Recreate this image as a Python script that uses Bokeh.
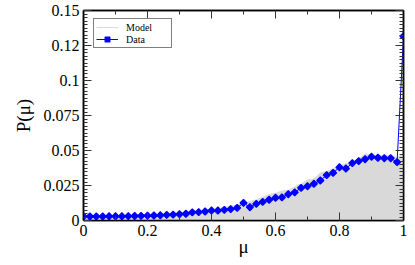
import math
from bokeh.plotting import figure
from bokeh.models import (LinearAxis, FixedTicker, Range1d, Legend, LegendItem,
                          PrintfTickFormatter, CustomJSTickFormatter)
from bokeh.embed import file_html
from bokeh.resources import INLINE

mu = [i * 0.02 for i in range(51)]

data_p = [0.0029, 0.0029, 0.0029, 0.0029, 0.0030, 0.0030, 0.0030, 0.0031, 0.0032, 0.0033,
          0.0035, 0.0036, 0.0037, 0.0040, 0.0042, 0.0045, 0.0048, 0.0058, 0.0060, 0.0064,
          0.0071, 0.0071, 0.0076, 0.0081, 0.0090, 0.0126, 0.0095, 0.0119, 0.0133, 0.0148,
          0.0162, 0.0165, 0.0188, 0.0201, 0.0233, 0.0245, 0.0262, 0.0286, 0.0324, 0.0340,
          0.0380, 0.0371, 0.0410, 0.0424, 0.0438, 0.0455, 0.0448, 0.0445, 0.0445, 0.0417,
          0.1316]

model_p = [0.0030, 0.0030, 0.0030, 0.0030, 0.0030, 0.0030, 0.0032, 0.0034, 0.0036, 0.0038,
           0.0040, 0.0042, 0.0045, 0.0048, 0.0052, 0.0056, 0.0060, 0.0064, 0.0069, 0.0074,
           0.0080, 0.0086, 0.0094, 0.0102, 0.0110, 0.0120, 0.0135, 0.0148, 0.0165, 0.0185,
           0.0195, 0.0210, 0.0215, 0.0240, 0.0260, 0.0290, 0.0295, 0.0340, 0.0350, 0.0370,
           0.0390, 0.0405, 0.0420, 0.0440, 0.0475, 0.0470, 0.0465, 0.0465, 0.0460, 0.0450,
           0.0470]

x_ticks = [0, 0.2, 0.4, 0.6, 0.8, 1.0]
y_ticks = [0, 0.025, 0.05, 0.075, 0.1, 0.125, 0.15]
y_labels = ["0", "0.025", "0.05", "0.075", "0.1", "0.12", "0.15"]

FONT = "Times New Roman"

p = figure(frame_width=320, frame_height=210, output_backend="svg", toolbar_location=None,
           x_range=Range1d(0, 1), y_range=Range1d(0, 0.15),
           x_axis_location=None, y_axis_location=None,
           min_border_left=83, min_border_right=12, min_border_top=10, min_border_bottom=45)
p.xgrid.visible = False
p.ygrid.visible = False
p.outline_line_color = "black"
p.outline_line_width = 1.5
p.background_fill_color = "white"
p.border_fill_color = "white"

x_minor = [i / 10 for i in range(11)]
y_minor = [i * 0.0025 for i in range(61)]


def make_axis(horizontal, labels_on):
    ax = LinearAxis()
    if horizontal:
        ax.ticker = FixedTicker(ticks=x_ticks, minor_ticks=x_minor)
        if labels_on:
            ax.formatter = PrintfTickFormatter(format="%g")
    else:
        ax.ticker = FixedTicker(ticks=y_ticks, minor_ticks=y_minor)
        if labels_on:
            ax.formatter = CustomJSTickFormatter(
                args=dict(yvals=y_ticks, ylabs=y_labels),
                code="const i = yvals.findIndex(v => Math.abs(v - tick) < 1e-9); "
                     "return i >= 0 ? ylabs[i] : String(tick);")
    ax.axis_line_color = "black"
    ax.axis_line_width = 1.5
    ax.major_tick_in = 8
    ax.major_tick_out = 0
    ax.minor_tick_in = 4
    ax.minor_tick_out = 0
    ax.major_tick_line_width = 1
    ax.minor_tick_line_width = 1
    ax.major_tick_line_color = "#333333"
    ax.minor_tick_line_color = "#333333"
    if labels_on:
        ax.major_label_text_font = FONT
        ax.major_label_text_font_size = "16px"
        ax.major_label_text_color = "black"
        ax.axis_label_text_font = FONT
        ax.axis_label_text_font_size = "19px"
        ax.axis_label_text_font_style = "normal"
        ax.axis_label_text_color = "black"
    else:
        ax.major_label_text_font_size = "0px"
        ax.major_label_text_alpha = 0
        ax.major_label_standoff = 0
    return ax


bx = make_axis(True, True)
bx.axis_label = "μ"
bx.major_label_standoff = 4
bx.axis_label_standoff = -3
p.add_layout(bx, "below")
ly = make_axis(False, True)
ly.axis_label = "P(μ)"
ly.major_label_standoff = 4
ly.axis_label_standoff = 7
p.add_layout(ly, "left")
p.add_layout(make_axis(True, False), "above")
p.add_layout(make_axis(False, False), "right")

p.varea(x=mu, y1=[0] * len(mu), y2=model_p, fill_color="#d9d9d9", fill_alpha=1)
model_line = p.line(x=mu, y=model_p, line_color="#d9d9d9", line_width=1)
data_line = p.line(x=mu, y=data_p, line_color="#0000ff", line_width=1)
data_pts = p.scatter(x=mu, y=data_p, marker="square", size=5, angle=math.pi / 4,
                     fill_color="#0000ff", line_color="#0000ff", line_width=1.2)

legend = Legend(items=[LegendItem(label="Model", renderers=[model_line]),
                       LegendItem(label="Data", renderers=[data_line, data_pts])],
                location=(10, 172))
legend.label_text_font = FONT
legend.label_text_font_size = "10px"
legend.label_text_color = "black"
legend.glyph_width = 22
legend.glyph_height = 12
legend.label_height = 12
legend.label_width = 43
legend.spacing = 0
legend.padding = 2
legend.margin = 0
legend.label_standoff = 8
legend.border_line_color = "black"
legend.border_line_width = 1
legend.background_fill_alpha = 1
p.add_layout(legend, "center")

open("out.html", "w").write(file_html(p, INLINE))
